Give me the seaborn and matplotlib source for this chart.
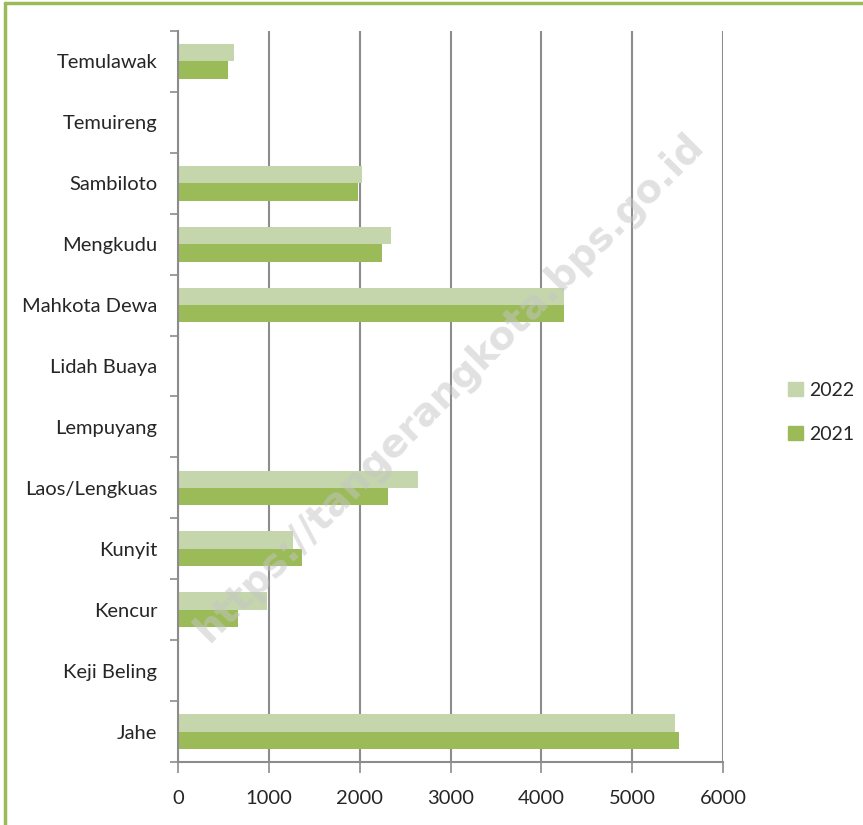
import matplotlib.pyplot as plt
import numpy as np
import pandas as pd
import seaborn as sns
from matplotlib.patches import Patch

tanaman = ["Temulawak", "Temuireng", "Sambiloto", "Mengkudu", "Mahkota Dewa",
           "Lidah Buaya", "Lempuyang", "Laos/Lengkuas", "Kunyit", "Kencur",
           "Keji Beling", "Jahe"]
th_2022 = [615, 0, 2030, 2350, 4250, 0, 0, 2645, 1270, 980, 0, 5470]
th_2021 = [545, 0, 1985, 2250, 4250, 0, 0, 2315, 1365, 665, 0, 5510]

warna = {"2022": "#C5D6AD", "2021": "#9BBB59"}

df = pd.concat([
    pd.DataFrame({"tanaman": tanaman, "nilai": th_2022, "tahun": "2022"}),
    pd.DataFrame({"tanaman": tanaman, "nilai": th_2021, "tahun": "2021"}),
])

sns.set_style("white")
plt.rcParams["font.family"] = ["Lato", "DejaVu Sans"]

fig = plt.figure(figsize=(8.63, 8.25), dpi=100)
ax = fig.add_axes([0.2063, 0.0764, 0.6315, 0.886])

sns.barplot(data=df, y="tanaman", x="nilai", hue="tahun", order=tanaman,
            hue_order=["2022", "2021"], palette=warna, width=0.57,
            orient="h", ax=ax, legend=False, linewidth=0, saturation=1)

ax.set_xlim(0, 6000)
ax.set_ylim(len(tanaman) - 0.5, -0.5)
ax.set_xticks(np.arange(0, 6001, 1000))
ax.set_xlabel("")
ax.set_ylabel("")
ax.xaxis.grid(True, color="#8C8C8C", linewidth=1.5)
ax.set_axisbelow(True)

ax.set_yticks(np.arange(-0.5, len(tanaman), 1), minor=True)
ax.tick_params(axis="y", which="major", length=0, pad=15, labelsize=14.5)
ax.tick_params(axis="y", which="minor", length=6, width=1.2, color="#8C8C8C", left=True)
ax.tick_params(axis="x", length=8, width=1.2, color="#8C8C8C", labelsize=14.5, pad=12, bottom=True)

for s in ["top", "right"]:
    ax.spines[s].set_visible(False)
for s in ["left", "bottom"]:
    ax.spines[s].set_color("#8C8C8C")
    ax.spines[s].set_linewidth(1.5)

handles = [Patch(color=warna["2022"], label="2022"), Patch(color=warna["2021"], label="2021")]
fig.legend(handles=handles, loc="center left", bbox_to_anchor=(0.893, 0.50),
           frameon=False, fontsize=14, handlelength=0.75, handleheight=0.75,
           handletextpad=0.35, labelspacing=1.4)

fig.text(0.521, 0.53, "https://tangerangkota.bps.go.id", rotation=45,
         ha="center", va="center", fontsize=28, fontweight="bold",
         color="#C4C4C4", alpha=0.5, family="DejaVu Sans")

# bingkai hijau
fig.add_artist(plt.Line2D([0.006, 0.006], [0, 0.996], color="#9BBB59", lw=2.5))
fig.add_artist(plt.Line2D([0.006, 1], [0.996, 0.996], color="#9BBB59", lw=2.5))

fig.savefig("out.png", dpi=100, facecolor="white")
